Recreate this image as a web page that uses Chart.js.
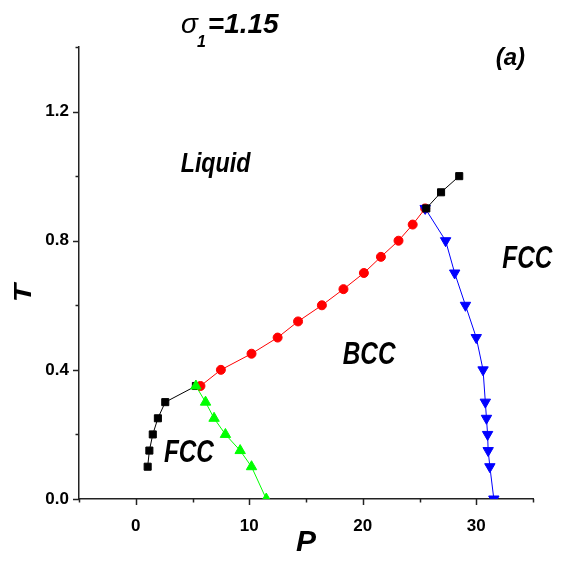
<!DOCTYPE html>
<html><head><meta charset="utf-8">
<script src="https://cdn.jsdelivr.net/npm/chart.js@4"></script>
<style>html,body{margin:0;padding:0;background:#fff}</style>
</head><body>
<canvas id="c" width="571" height="566"></canvas>
<script>
// Liquid–FCC boundary (low pressure)
const liquidFccLowP = [1.05, 1.2, 1.5, 1.95, 2.6, 5.3];
const liquidFccLowT = [0.10, 0.15, 0.20, 0.25, 0.30, 0.35];
// Liquid–BCC boundary
const liquidBccP = [5.7, 7.5, 10.2, 12.5, 14.3, 16.4, 18.3, 20.1, 21.6, 23.15, 24.4, 25.5];
const liquidBccT = [0.35, 0.40, 0.45, 0.50, 0.55, 0.60, 0.65, 0.70, 0.75, 0.80, 0.85, 0.90];
// Liquid–FCC boundary (high pressure)
const liquidFccHighP = [25.6, 26.9, 28.5];
const liquidFccHighT = [0.90, 0.95, 1.00];
// FCC–BCC boundary (low pressure)
const fccBccP = [5.3, 6.15, 6.9, 7.9, 9.2, 10.2, 11.5];
const fccBccT = [0.35, 0.30, 0.25, 0.20, 0.15, 0.10, 0.00];
// BCC–FCC boundary (high pressure)
const bccFccP = [25.5, 27.3, 28.1, 29.05, 30.0, 30.6, 30.8, 30.9, 31.0, 31.05, 31.2, 31.55];
const bccFccT = [0.90, 0.80, 0.70, 0.60, 0.50, 0.40, 0.30, 0.25, 0.20, 0.15, 0.10, 0.00];
// labelled ticks
const xTickLabels = [0, 10, 20, 30];
const yTickLabels = [0.0, 0.4, 0.8, 1.2];

const pts = (xs, ys) => xs.map((x, i) => ({x: x, y: ys[i]}));
const SANS = "'Liberation Sans',Arial,sans-serif";
const isMajor = (v, list) => list.some(t => Math.abs(t - v) < 1e-6);

const ticksPlugin = {
  id: 'ticksPlugin',
  afterDraw(chart) {
    const ctx = chart.ctx, xs = chart.scales.x, ys = chart.scales.y, a = chart.chartArea;
    ctx.save();
    ctx.strokeStyle = '#222';
    ctx.lineWidth = 1.5;
    xs.ticks.forEach(t => {
      const p = Math.round(xs.getPixelForValue(t.value)) + 0.5;
      const L = isMajor(t.value, xTickLabels) ? 6 : 3.5;
      ctx.beginPath(); ctx.moveTo(p, a.bottom); ctx.lineTo(p, a.bottom + L); ctx.stroke();
    });
    ys.ticks.forEach(t => {
      const p = Math.round(ys.getPixelForValue(t.value)) + 0.5;
      const L = isMajor(t.value, yTickLabels) ? 6 : 3.5;
      ctx.beginPath(); ctx.moveTo(a.left, p); ctx.lineTo(a.left - L, p); ctx.stroke();
    });
    ctx.restore();
  }
};

const textPlugin = {
  id: 'textPlugin',
  afterDraw(chart) {
    const ctx = chart.ctx, xs = chart.scales.x, ys = chart.scales.y;
    ctx.fillStyle = '#000';
    // horizontally condensed text at data coordinates
    const put = (txt, px, ty, size, sx) => {
      ctx.save();
      ctx.font = "italic bold " + size + "px " + SANS;
      ctx.textAlign = 'center'; ctx.textBaseline = 'alphabetic';
      ctx.translate(xs.getPixelForValue(px), ys.getPixelForValue(ty));
      ctx.scale(sx, 1);
      ctx.fillText(txt, 0, 0);
      ctx.restore();
    };
    put('Liquid', 7.03, 1.014, 27, 0.86);
    put('BCC', 20.56, 0.4185, 32, 0.76);
    put('FCC', 34.5, 0.715, 32, 0.76);
    put('FCC', 4.68, 0.116, 32, 0.76);
    put('(a)', 33.0, 1.345, 24, 1);
    // title sigma_1 = 1.15
    ctx.save();
    ctx.textAlign = 'left'; ctx.textBaseline = 'alphabetic';
    let x = 181;
    ctx.font = "italic 28px " + SANS;
    ctx.fillText('σ', x, 33);
    x += ctx.measureText('σ').width;
    ctx.font = "italic bold 16px " + SANS;
    ctx.fillText('1', x - 1, 47);
    x += ctx.measureText('1').width + 1;
    ctx.font = "italic bold 28px " + SANS;
    ctx.fillText('=1.15', x, 33);
    ctx.restore();
    // y axis title T (rotated)
    ctx.save();
    ctx.translate(24.5, 293);
    ctx.rotate(-Math.PI / 2);
    ctx.scale(1, 0.82);
    ctx.font = "italic bold 30px " + SANS;
    ctx.textAlign = 'center'; ctx.textBaseline = 'middle';
    ctx.fillText('T', 0, 0);
    ctx.restore();
  }
};

const common = {showLine: true, borderWidth: 1, tension: 0};
new Chart(document.getElementById('c'), {
  type: 'scatter',
  data: {
    datasets: [
      Object.assign({label: 'FCC-BCC', data: pts(fccBccP, fccBccT), borderColor: '#00ff00', backgroundColor: '#00ff00',
        pointStyle: 'triangle', pointRadius: 6}, common),
      Object.assign({label: 'Liquid-FCC high', data: pts(liquidFccHighP, liquidFccHighT), borderColor: '#000', backgroundColor: '#000',
        pointStyle: 'rect', pointRadius: 5}, common),
      Object.assign({label: 'BCC-FCC', data: pts(bccFccP, bccFccT), borderColor: '#0000ff', backgroundColor: '#0000ff',
        pointStyle: 'triangle', rotation: 180, pointRadius: 6}, common),
      Object.assign({label: 'Liquid-BCC', data: pts(liquidBccP, liquidBccT), borderColor: '#ff0000', backgroundColor: '#ff0000',
        pointStyle: 'circle', pointRadius: 4.5}, common),
      Object.assign({label: 'Liquid-FCC low', data: pts(liquidFccLowP, liquidFccLowT), borderColor: '#000', backgroundColor: '#000',
        pointStyle: 'rect', pointRadius: 5}, common)
    ]
  },
  options: {
    responsive: false,
    animation: false,
    events: [],
    layout: {padding: {left: 0, top: 47, right: 38, bottom: 0}},
    plugins: {legend: {display: false}, tooltip: {enabled: false}},
    elements: {point: {borderWidth: 0}},
    scales: {
      x: {
        type: 'linear', min: -5, max: 35,
        afterFit: s => { s.height = 67; },
        grid: {display: true, drawOnChartArea: false, drawTicks: false},
        border: {display: true, color: '#222', width: 1.5},
        ticks: {stepSize: 5, padding: 17, color: '#000', maxRotation: 0, autoSkip: false,
          font: {family: SANS, size: 17, weight: 'bold'},
          callback: v => isMajor(v, xTickLabels) ? String(v) : ''},
        title: {display: true, text: 'P', color: '#000', padding: {top: 0, bottom: 5},
          font: {family: SANS, size: 30, weight: 'bold', style: 'italic'}}
      },
      y: {
        type: 'linear', min: 0, max: 1.4,
        afterFit: s => { s.width = 79; },
        grid: {display: true, drawOnChartArea: false, drawTicks: false},
        border: {display: true, color: '#222', width: 1.5},
        ticks: {stepSize: 0.2, padding: 10, color: '#000', autoSkip: false,
          font: {family: SANS, size: 17, weight: 'bold'},
          callback: v => isMajor(v, yTickLabels) ? v.toFixed(1) : ''},
        title: {display: false}
      }
    }
  },
  plugins: [ticksPlugin, textPlugin]
});
</script>
</body></html>
